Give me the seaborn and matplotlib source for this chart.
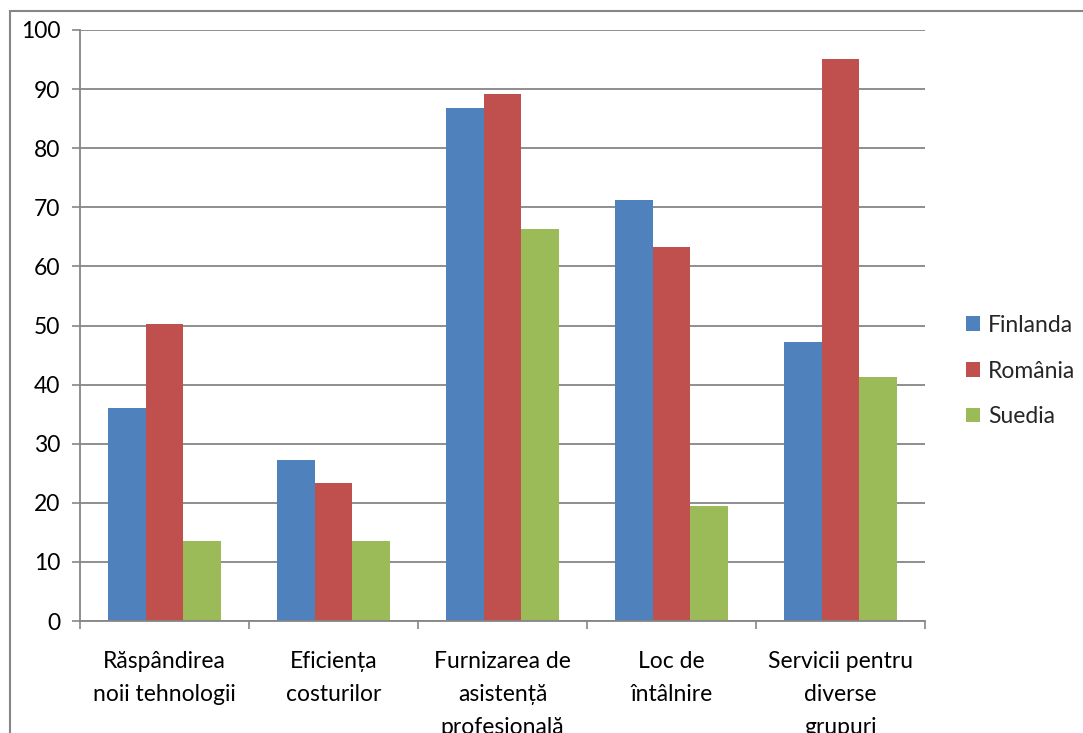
import matplotlib
matplotlib.use("Agg")
import matplotlib.pyplot as plt
import matplotlib.patches as mpatches
import pandas as pd
import seaborn as sns

categories = [
    "Răspândirea\nnoii tehnologii",
    "Eficiența\ncosturilor",
    "Furnizarea de\nasistență\nprofesională",
    "Loc de\nîntâlnire",
    "Servicii pentru\ndiverse\ngrupuri",
]
countries = ["Finlanda", "România", "Suedia"]
finlanda = [36.0, 27.2, 86.8, 71.2, 47.2]
romania = [50.2, 23.3, 89.2, 63.3, 95.1]
suedia = [13.6, 13.6, 66.3, 19.5, 41.3]
y_ticks = [0, 10, 20, 30, 40, 50, 60, 70, 80, 90, 100]

colors = ["#4F81BD", "#C0504D", "#9BBB59"]
grey = "#868686"
fs = 16.5

df = pd.DataFrame({
    "categorie": categories * 3,
    "tara": [c for c in countries for _ in categories],
    "valoare": finlanda + romania + suedia,
})

sns.set_theme(style="white")
plt.rcParams["font.family"] = ["Lato", "DejaVu Sans"]

fig = plt.figure(figsize=(10.83, 7.33), dpi=100)
ax = fig.add_axes([80 / 1083, 1 - 621 / 733, 845 / 1083, 591 / 733])

sns.barplot(data=df, x="categorie", y="valoare", hue="tara",
            hue_order=countries, order=categories, palette=colors,
            width=0.667, saturation=1, linewidth=0, ax=ax, legend=True)

ax.set_xlim(-0.5, len(categories) - 0.5)
ax.set_ylim(0, 100)
ax.set_yticks(y_ticks)
ax.set_yticklabels([str(v) for v in y_ticks], fontsize=fs, color="black")
ax.set_xlabel("")
ax.set_ylabel("")

# category separators on the x axis
ax.set_xticks([i - 0.5 for i in range(len(categories) + 1)], minor=False)
ax.set_xticklabels([])
ax.set_xticks(range(len(categories)), minor=True)
ax.set_xticklabels(categories, minor=True, fontsize=fs, linespacing=1.7,
                   color="black")
ax.tick_params(axis="x", which="major", direction="out", length=6,
               width=1.2, color=grey, bottom=True)
ax.tick_params(axis="x", which="minor", length=0, pad=21.5)
ax.tick_params(axis="y", direction="out", length=6, width=1.2, color=grey,
               left=True, pad=8)

ax.yaxis.grid(True, color=grey, linewidth=1.3)
ax.set_axisbelow(True)
for side in ["top", "right"]:
    ax.spines[side].set_visible(False)
for side in ["left", "bottom"]:
    ax.spines[side].set_color(grey)
    ax.spines[side].set_linewidth(1.3)

handles, labels = ax.get_legend_handles_labels()
ax.legend(handles, labels, loc="center left",
          bbox_to_anchor=(966 / 1083, 1 - 371 / 733),
          bbox_transform=fig.transFigure, borderpad=0, borderaxespad=0,
          frameon=False, fontsize=fs, handlelength=0.6, handleheight=0.6,
          handletextpad=0.35, labelspacing=1.08)

# outer chart frame
fig.patches.append(mpatches.Rectangle(
    (10 / 1083, -0.05), 1.1, 1 - 11 / 733 + 0.05,
    transform=fig.transFigure, fill=False, edgecolor=grey, linewidth=1.5))

fig.savefig("out.png", dpi=100)
